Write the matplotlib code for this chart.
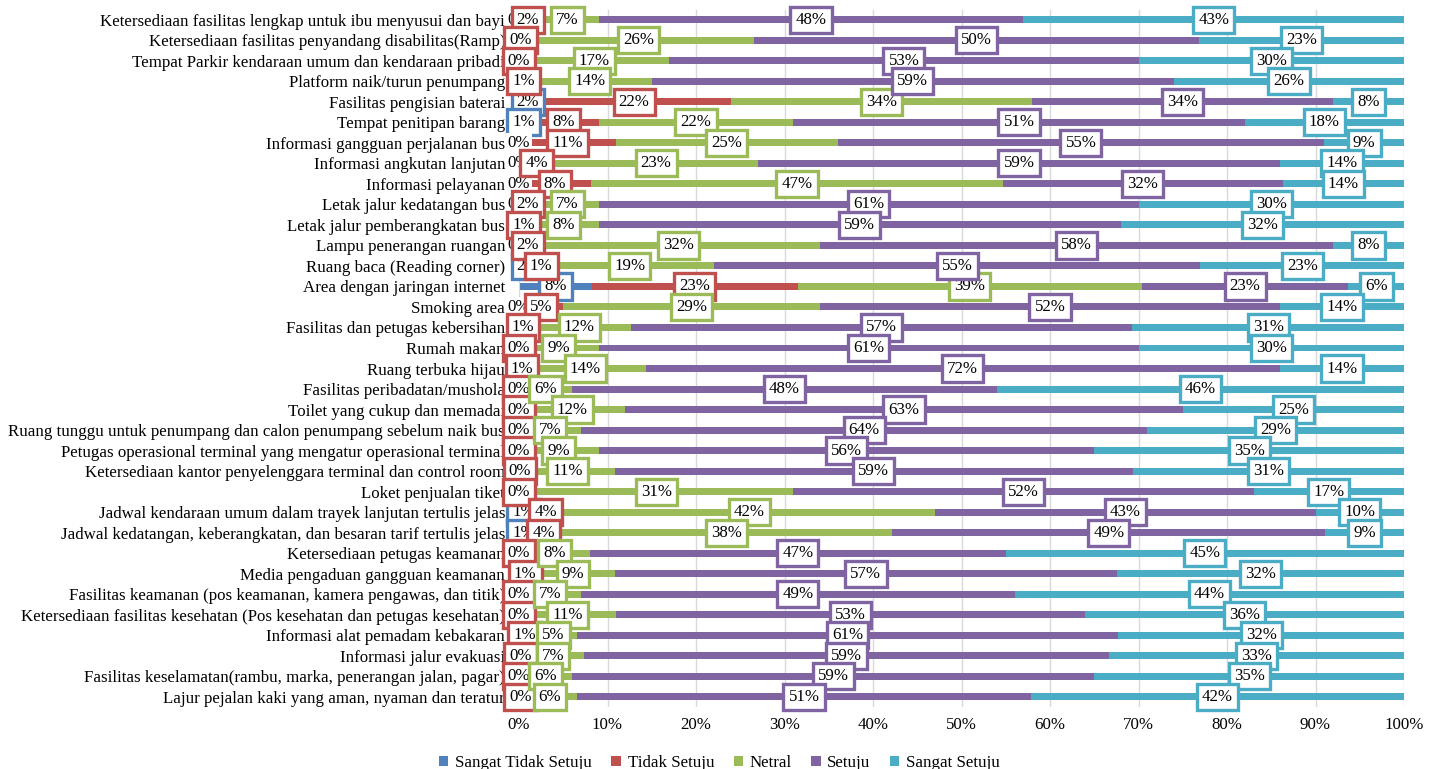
import matplotlib
matplotlib.use('Agg')
import matplotlib.pyplot as plt
from matplotlib.patches import Patch
import numpy as np

plt.rcParams['font.family'] = ['Liberation Serif', 'DejaVu Serif']

categories = [
    "Ketersediaan fasilitas lengkap untuk ibu menyusui dan bayi",
    "Ketersediaan fasilitas penyandang disabilitas(Ramp)",
    "Tempat Parkir kendaraan umum dan kendaraan pribadi",
    "Platform naik/turun penumpang",
    "Fasilitas pengisian baterai",
    "Tempat penitipan barang",
    "Informasi gangguan perjalanan bus",
    "Informasi angkutan lanjutan",
    "Informasi pelayanan",
    "Letak jalur kedatangan bus",
    "Letak jalur pemberangkatan bus",
    "Lampu penerangan ruangan",
    "Ruang baca (Reading corner)",
    "Area dengan jaringan internet",
    "Smoking area",
    "Fasilitas dan petugas kebersihan",
    "Rumah makan",
    "Ruang terbuka hijau",
    "Fasilitas peribadatan/mushola",
    "Toilet yang cukup dan memadai",
    "Ruang tunggu untuk penumpang dan calon penumpang sebelum naik bus",
    "Petugas operasional terminal yang mengatur operasional terminal",
    "Ketersediaan kantor penyelenggara terminal dan control room",
    "Loket penjualan tiket",
    "Jadwal kendaraan umum dalam trayek lanjutan tertulis jelas",
    "Jadwal kedatangan, keberangkatan, dan besaran tarif tertulis jelas",
    "Ketersediaan petugas keamanan",
    "Media pengaduan gangguan keamanan",
    "Fasilitas keamanan (pos keamanan, kamera pengawas, dan titik)",
    "Ketersediaan fasilitas kesehatan (Pos kesehatan dan petugas kesehatan)",
    "Informasi alat pemadam kebakaran",
    "Informasi jalur evakuasi",
    "Fasilitas keselamatan(rambu, marka, penerangan jalan, pagar)",
    "Lajur pejalan kaki yang aman, nyaman dan teratur",
]

sangat_tidak_setuju = [0, 0, 0, 0, 2, 1, 0, 0, 0, 0, 0, 0, 2, 8.2, 0, 0, 0,
                       0, 0, 0, 0, 0, 0, 0, 1, 1, 0, 0, 0, 0, 0, 0, 0, 0]
tidak_setuju = [2, 0.4, 0, 1, 22, 8, 11, 4, 8.1, 2, 1, 2, 1, 23.3, 5, 0.9, 0,
                0.7, 0, 0, 0, 0, 0.2, 0, 4, 3.6, 0, 1.4, 0, 0, 1.3, 0.4, 0, 0.4]
netral = [7, 26.2, 17, 14, 34, 22, 25, 23, 46.6, 7, 8, 32, 19, 38.9, 29, 11.8, 9,
          13.6, 6, 12, 7, 9, 10.6, 31, 42, 37.6, 8, 9.4, 7, 11, 5.2, 6.9, 6, 6.2]
setuju = [48, 50.2, 53, 59, 34, 51, 55, 59, 31.6, 61, 59, 58, 55, 23.3, 52, 56.6, 61,
          71.7, 48, 63, 64, 56, 58.6, 52, 43, 48.9, 47, 56.8, 49, 53, 61.2, 59.4, 59, 51.2]
sangat_setuju = [43, 23.2, 30, 26, 8, 18, 9, 14, 13.7, 30, 32, 8, 23, 6.3, 14, 30.7, 30,
                 14.0, 46, 25, 29, 35, 30.6, 17, 10, 8.9, 45, 32.4, 44, 36, 32.3, 33.3, 35, 42.2]

series_names = ["Sangat Tidak Setuju", "Tidak Setuju", "Netral", "Setuju", "Sangat Setuju"]
series_values = [sangat_tidak_setuju, tidak_setuju, netral, setuju, sangat_setuju]
colors = ["#4F81BD", "#C0504D", "#9BBB59", "#8064A2", "#4BACC6"]
xtick_values = [0, 10, 20, 30, 40, 50, 60, 70, 80, 90, 100]
xtick_labels = [f"{v}%" for v in xtick_values]

FS = 12.2
W, H = 1439, 769
fig = plt.figure(figsize=(W / 100, H / 100), dpi=100)
ax = fig.add_axes([519 / W, 62 / H, 885 / W, 697.5 / H])

n = len(categories)
y = np.arange(n)
left = np.zeros(n)
lefts = []
for vals, col, name in zip(series_values, colors, series_names):
    vals = np.array(vals, dtype=float)
    ax.barh(y, vals, left=left, height=0.34, color=col, label=name, zorder=2)
    lefts.append(left.copy())
    left = left + vals

# data labels
for k, (vals, col) in enumerate(zip(series_values, colors)):
    for i, v in enumerate(vals):
        xc = lefts[k][i] + v / 2
        if k == 0 and v == 0:
            bbox = dict(boxstyle='square,pad=0.1', facecolor='white', edgecolor='none')
        else:
            bbox = dict(boxstyle='square,pad=0.3', facecolor='white', edgecolor=col, linewidth=2.4)
        ax.text(xc, i, f"{v:.0f}%", ha='center', va='center', fontsize=FS,
                color='black', bbox=bbox, zorder=5 + k, clip_on=False)

ax.set_xlim(0, 100)
ax.set_ylim(n - 0.5, -0.5)
ax.set_yticks(y)
ax.set_yticklabels(categories, fontsize=FS)
ax.set_xticks(xtick_values)
ax.set_xticklabels(xtick_labels, fontsize=FS)
ax.tick_params(axis='y', length=0, pad=10)
ax.tick_params(axis='x', length=0, pad=7)
ax.grid(axis='x', color='#D9D9D9', linewidth=1, zorder=0)
ax.set_axisbelow(True)
for s in ['top', 'right', 'bottom']:
    ax.spines[s].set_visible(False)
ax.spines['left'].set_color('#D9D9D9')

handles = [Patch(facecolor=c, edgecolor='none', label=nm) for c, nm in zip(colors, series_names)]
fig.legend(handles=handles, loc='center', bbox_to_anchor=(0.5, 6 / H), ncol=5,
           frameon=False, fontsize=FS, handlelength=0.55, handleheight=0.55,
           handletextpad=0.4, columnspacing=1.15)

fig.savefig('out.png', dpi=100)
